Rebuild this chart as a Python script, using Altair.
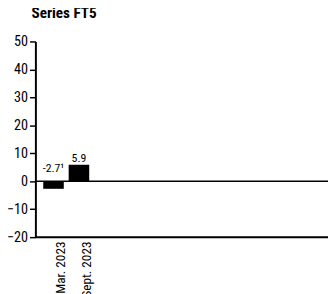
import altair as alt
import pandas as pd

periods = ["Mar. 2023", "Sept. 2023"]
values = [-2.7, 5.9]
value_labels = ["-2.7¹", "5.9"]
y_ticks = [-20, -10, 0, 10, 20, 30, 40, 50]

df = pd.DataFrame({
    "period": periods,
    "value": values,
    "label": value_labels,
})
df["label_y"] = df["value"].clip(lower=0)

FONT = "Roboto Condensed, Liberation Sans Narrow, DejaVu Sans Condensed, sans-serif"

xscale = alt.Scale(domain=periods, range=[0, 63], paddingInner=0.192, paddingOuter=0.308)
yscale = alt.Scale(domain=[-20, 50], nice=False)

xaxis = alt.Axis(title=None, labelAngle=-90, ticks=False, domain=False,
                 labelPadding=4, labelOffset=8, labelFontSize=13.5,
                 labelColor="black", labelFont=FONT)
yaxis = alt.Axis(title=None, values=y_ticks, tickSize=6, tickColor="black",
                 tickWidth=1.5, domainColor="black", domainWidth=2,
                 labelFontSize=14.5, labelColor="black", labelFont=FONT,
                 labelPadding=2, grid=False, labelOverlap=False,
                 labelFlush=False)

bars = alt.Chart(df).mark_bar(color="black").encode(
    x=alt.X("period:N", scale=xscale, sort=periods, axis=xaxis),
    y=alt.Y("value:Q", scale=yscale, axis=yaxis),
)

def text_layer(filt, dy):
    return alt.Chart(df).transform_filter(filt).mark_text(
        baseline="alphabetic", dy=dy, fontSize=12, font=FONT, color="black"
    ).encode(
        x=alt.X("period:N", scale=xscale, sort=periods, axis=xaxis),
        y=alt.Y("label_y:Q", scale=yscale, axis=yaxis),
        text="label:N",
    )

texts_pos = text_layer("datum.value >= 0", -3)
texts_neg = text_layer("datum.value < 0", -9)

zero = alt.Chart(pd.DataFrame({"y": [0]})).mark_rule(color="black", strokeWidth=1.5).encode(
    y=alt.Y("y:Q", scale=yscale, axis=yaxis)
)
bottom = alt.Chart(pd.DataFrame({"y": [-20]})).mark_rule(color="black", strokeWidth=2).encode(
    y=alt.Y("y:Q", scale=yscale, axis=yaxis)
)

chart = alt.layer(bars, zero, bottom, texts_pos, texts_neg).properties(
    width=299,
    height=200,
    title=alt.TitleParams("Series FT5", anchor="start", frame="group", dx=-4, offset=12,
                          fontSize=15.5, fontWeight="bold", font=FONT, color="black"),
    autosize=alt.AutoSizeParams(type="none"),
    padding={"left": 28, "top": 31, "right": 0, "bottom": 60},
).configure_view(stroke=None)

chart.save("out.html", embed_options={"renderer": "svg", "actions": False})
